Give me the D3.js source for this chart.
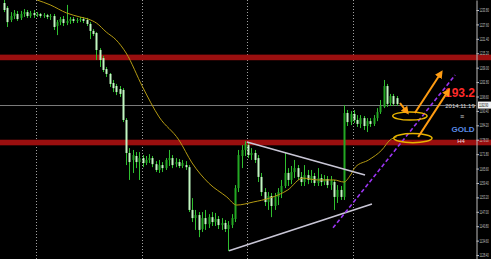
<!DOCTYPE html>
<html><head><meta charset="utf-8">
<script src="https://cdn.jsdelivr.net/npm/d3@7/dist/d3.min.js"></script>
<style>html,body{margin:0;padding:0;background:#000;overflow:hidden}svg{display:block}</style>
</head><body><svg id="c" width="491" height="259"></svg>
<script>
// ---- data (GOLD H4) ----
const opens=[1236.8,1234.7,1229.5,1231.2,1232.1,1230.4,1232.1,1232.9,1231.2,1232.5,1231.6,1232.1,1231.2,1231.6,1230.8,1231.2,1226.9,1228.6,1229.9,1228.2,1229.1,1229.9,1229.1,1229.5,1229.9,1229.5,1227.8,1224.8,1223.9,1216.6,1213.1,1208.4,1206.3,1202.4,1201.1,1199.8,1199.4,1186.5,1172.3,1169.3,1171.0,1168.4,1170.1,1168.0,1169.3,1170.1,1167.5,1165.0,1167.1,1165.8,1169.3,1170.1,1167.5,1168.4,1166.7,1167.1,1166.2,1147.8,1144.3,1145.6,1139.6,1144.3,1141.7,1144.7,1142.6,1143.9,1141.3,1142.2,1139.6,1141.3,1143.9,1157.2,1171.0,1173.6,1175.7,1171.4,1172.3,1170.1,1162.0,1155.5,1151.2,1153.8,1149.5,1153.4,1155.5,1158.1,1163.7,1160.7,1164.1,1165.8,1162.0,1159.8,1162.8,1160.7,1162.4,1159.4,1161.5,1159.8,1161.1,1158.5,1159.8,1153.4,1156.4,1153.4,1189.5,1185.6,1189.1,1186.5,1184.8,1187.3,1183.9,1186.0,1184.8,1187.3,1189.9,1192.1,1201.1,1193.8,1196.8,1195.9];
const highs=[1238.1,1235.5,1232.9,1233.8,1233.4,1233.4,1234.2,1233.8,1233.4,1233.8,1232.9,1232.5,1232.5,1232.1,1232.1,1232.1,1229.5,1230.8,1231.2,1236.0,1230.8,1230.8,1230.4,1230.8,1230.8,1230.4,1228.6,1225.6,1224.3,1217.4,1214.0,1209.3,1206.7,1203.7,1202.0,1201.1,1200.2,1187.3,1174.4,1173.6,1172.7,1172.7,1171.4,1171.0,1171.8,1171.0,1168.8,1169.3,1168.4,1170.1,1173.6,1171.4,1170.1,1169.7,1169.3,1168.8,1167.1,1152.9,1147.8,1146.9,1146.9,1147.8,1146.0,1146.9,1146.5,1145.2,1144.3,1143.5,1143.0,1146.0,1158.5,1173.6,1175.7,1177.4,1177.0,1174.4,1173.6,1171.4,1163.7,1157.2,1155.5,1155.1,1155.1,1157.2,1160.7,1172.3,1165.8,1166.7,1169.3,1167.1,1164.1,1167.1,1165.0,1165.0,1163.7,1165.8,1163.2,1162.8,1162.4,1162.4,1160.7,1158.5,1158.1,1192.9,1190.8,1190.3,1190.8,1188.6,1188.6,1188.2,1187.3,1187.3,1188.6,1191.6,1195.1,1203.7,1202.0,1197.7,1197.7,1196.8];
const lows=[1232.9,1226.5,1228.6,1229.9,1229.1,1229.5,1230.8,1230.4,1230.4,1230.4,1230.8,1230.4,1230.4,1229.9,1229.5,1225.2,1223.0,1227.3,1226.9,1227.3,1227.8,1228.2,1228.2,1228.6,1228.2,1226.9,1221.3,1222.6,1212.3,1209.3,1207.1,1205.0,1200.7,1198.5,1197.2,1196.4,1185.6,1167.1,1160.7,1163.7,1165.8,1160.7,1166.2,1167.1,1168.0,1166.2,1164.1,1163.7,1164.1,1165.0,1166.7,1165.8,1166.2,1165.8,1165.8,1165.0,1146.9,1142.6,1139.2,1136.1,1138.3,1139.2,1140.0,1140.9,1140.9,1139.6,1139.2,1138.3,1130.1,1140.0,1142.6,1155.5,1165.8,1171.0,1170.1,1169.3,1168.0,1159.8,1153.8,1149.5,1147.8,1144.7,1147.8,1149.9,1152.9,1157.2,1158.1,1158.9,1161.5,1160.7,1158.1,1158.1,1158.9,1159.4,1158.1,1158.1,1158.1,1158.5,1157.2,1156.4,1147.8,1150.8,1152.1,1152.1,1183.9,1184.3,1185.2,1183.5,1183.0,1182.2,1181.3,1183.5,1183.9,1186.0,1189.1,1191.6,1192.1,1192.5,1192.5,1192.5];
const closes=[1233.8,1228.6,1231.2,1232.5,1229.9,1232.1,1232.9,1231.2,1232.5,1231.6,1232.1,1231.2,1231.6,1230.8,1231.2,1226.5,1228.6,1229.9,1228.2,1229.1,1229.9,1229.1,1229.5,1229.9,1229.1,1227.8,1224.8,1223.5,1216.6,1212.3,1208.0,1206.3,1202.0,1200.2,1198.5,1197.7,1186.5,1172.3,1168.4,1171.4,1168.4,1170.1,1168.0,1169.3,1170.1,1167.5,1165.0,1167.1,1165.8,1169.3,1170.1,1167.1,1168.4,1166.7,1168.0,1166.2,1147.8,1144.3,1145.6,1139.2,1144.3,1141.7,1144.7,1142.6,1143.9,1141.3,1142.2,1139.6,1141.3,1144.3,1157.2,1171.4,1173.6,1176.1,1171.4,1172.3,1169.3,1162.0,1155.5,1151.2,1153.8,1149.5,1153.8,1155.5,1158.1,1163.7,1160.7,1164.1,1165.8,1162.0,1159.8,1162.8,1160.7,1162.4,1159.4,1161.5,1159.8,1161.1,1158.5,1160.7,1153.4,1156.4,1153.4,1189.5,1185.6,1189.1,1186.5,1184.8,1187.3,1183.9,1186.0,1184.8,1187.3,1189.9,1192.5,1201.1,1193.4,1196.8,1193.4,1193.4];
// moving average (yellow) read at bar indices
const maIdx=[10,14,19,23,25.5,28,31,34,37,42,47,53,57,62,67.5,70.5,75.5,80.5,86,90.5,95,100,103,105,106.5,110.5,114.5,117,119];
const maVal=[1238.1,1236.0,1232.5,1230.8,1229.9,1228.2,1224.3,1220.9,1215.3,1200.7,1187.8,1177.9,1168.0,1159.4,1153.4,1149.9,1151.2,1152.9,1156.4,1161.5,1160.7,1160.7,1159.8,1162.8,1166.3,1169.3,1173.6,1177.9,1179.2];
// price axis labels
const yTicks=[1233.8,1227.6,1221.4,1215.2,1209.0,1202.8,1196.6,1190.4,1184.2,1178.0,1171.8,1165.6,1159.4,1153.2,1147.0,1140.8,1134.6,1128.4];
const redLevels=[1213.4,1176.8];
const bidPrice=1192.9;
const gridIdx=[9.7,41.8,73.6,105.8];
// drawn objects (bar index, price)
const triUpper=[[73.6,1177.0],[109.4,1162.8]];
const triLower=[[68.2,1130.2],[111.5,1150.4]];
const channel=[[99.7,1140.1],[136.7,1205.8]];
const arrows=[[[124.5,1189.5],[132.4,1206.7]],[[125.5,1179.2],[134.6,1199.0]],[[120.0,1193.8],[122.1,1189.9]]];
const ellipses=[[123.0,1188.2,5.2,1.75],[123.9,1178.7,5.8,1.95]];

// ---- drawing ----
const W=491,H=259,AX=476;
const svg=d3.select("#c");
svg.append("rect").attr("width",W).attr("height",H).attr("fill","#000");
const x=d3.scaleLinear().domain([0,119]).range([4,396.7]);
const y=d3.scaleLinear().domain([1126.7,1238.1]).range([H,0]);

// vertical dotted grid
svg.selectAll("line.grid").data(gridIdx).enter().append("line").attr("class","grid")
  .attr("x1",d=>Math.round(x(d))+0.5).attr("x2",d=>Math.round(x(d))+0.5)
  .attr("y1",0).attr("y2",H).attr("stroke","#a0a0a0").attr("stroke-width",1).attr("stroke-dasharray","1,2");

// red levels
svg.selectAll("rect.lvl").data(redLevels).enter().append("rect").attr("class","lvl")
  .attr("x",0).attr("width",W).attr("y",d=>y(d)-2.8).attr("height",5.6).attr("fill","#9a0f0f");

// bid line
svg.append("line").attr("x1",0).attr("x2",AX).attr("y1",Math.round(y(bidPrice))+0.5).attr("y2",Math.round(y(bidPrice))+0.5)
  .attr("stroke","#7a7a7a").attr("stroke-width",1);

// candles
const idx=d3.range(opens.length);
const g=svg.append("g");
g.selectAll("line.wick").data(idx).enter().append("line").attr("class","wick")
  .attr("x1",i=>Math.round(x(i))+0.5).attr("x2",i=>Math.round(x(i))+0.5)
  .attr("y1",i=>y(highs[i])).attr("y2",i=>y(lows[i]))
  .attr("stroke","#2fbf2f").attr("stroke-width",1);
g.selectAll("rect.body").data(idx).enter().append("rect").attr("class","body")
  .attr("x",i=>Math.round(x(i))-0.5).attr("width",2)
  .attr("y",i=>y(Math.max(opens[i],closes[i])))
  .attr("height",i=>Math.max(1,Math.abs(y(opens[i])-y(closes[i]))))
  .attr("fill",i=>closes[i]>=opens[i]?"#23a823":"#c2f7c2");

// moving average
svg.append("path").datum(d3.range(maIdx.length))
  .attr("d",d3.line().x(k=>x(maIdx[k])).y(k=>y(maVal[k])).curve(d3.curveMonotoneX))
  .attr("fill","none").attr("stroke","#b49a12").attr("stroke-width",1);

// triangle lines
[triUpper,triLower].forEach(t=>{
  svg.append("line").attr("x1",x(t[0][0])).attr("y1",y(t[0][1])).attr("x2",x(t[1][0])).attr("y2",y(t[1][1]))
    .attr("stroke","#c9c6d6").attr("stroke-width",1.6);
});
// purple dashed channel
svg.append("line").attr("x1",x(channel[0][0])).attr("y1",y(channel[0][1])).attr("x2",x(channel[1][0])).attr("y2",y(channel[1][1]))
  .attr("stroke","#9b35f2").attr("stroke-width",1.6).attr("stroke-dasharray","4,2.5");

// ellipses
svg.selectAll("ellipse.el").data(ellipses).enter().append("ellipse").attr("class","el")
  .attr("cx",d=>x(d[0])).attr("cy",d=>y(d[1]))
  .attr("rx",d=>x(d[0]+d[2])-x(d[0])).attr("ry",d=>y(d[1])-y(d[1]+d[3]))
  .attr("fill","none").attr("stroke","#e8b400").attr("stroke-width",1.5);

// texts
const ff="Arial, 'Liberation Sans', sans-serif";
svg.append("text").attr("x",475).attr("y",97).attr("text-anchor","end").attr("font-family",ff)
  .attr("font-weight","bold").attr("font-size",12).attr("fill","#ff2a2a").text("193.2");
svg.append("text").attr("x",460).attr("y",108).attr("text-anchor","middle").attr("font-family",ff)
  .attr("font-size",6).attr("fill","#dcdcdc").text("2014.11.19");
svg.append("text").attr("x",462).attr("y",119).attr("text-anchor","middle").attr("font-family",ff)
  .attr("font-size",7).attr("fill","#cfcfcf").text("≡");
svg.append("text").attr("x",463).attr("y",132).attr("text-anchor","middle").attr("font-family",ff)
  .attr("font-weight","bold").attr("font-size",8).attr("fill","#5a8be8").text("GOLD");
svg.append("text").attr("x",461).attr("y",142.5).attr("text-anchor","middle").attr("font-family",ff)
  .attr("font-size",6).attr("fill","#f0dede").text("H4");

// arrows (drawn above the text like the reference)
const defs=svg.append("defs");
defs.append("marker").attr("id","ah").attr("viewBox","0 0 10 10").attr("refX",6).attr("refY",5)
  .attr("markerWidth",8).attr("markerHeight",8).attr("markerUnits","userSpaceOnUse").attr("orient","auto")
  .append("path").attr("d","M0,0 L10,5 L0,10 z").attr("fill","#ff9c12");
svg.selectAll("line.arr").data(arrows).enter().append("line").attr("class","arr")
  .attr("x1",d=>x(d[0][0])).attr("y1",d=>y(d[0][1])).attr("x2",d=>x(d[1][0])).attr("y2",d=>y(d[1][1]))
  .attr("stroke","#ff9c12").attr("stroke-width",2).attr("marker-end","url(#ah)");

// price axis
const axis=d3.axisRight(y).tickValues(yTicks).tickSize(2.5).tickSizeOuter(0).tickPadding(0).tickFormat(d3.format(".2f"));
const ag=svg.append("g").attr("transform",`translate(${AX+0.5},0)`).call(axis);
ag.select(".domain").attr("stroke","#bdbdbd");
ag.selectAll(".tick line").attr("stroke","#bdbdbd");
ag.selectAll(".tick text").attr("fill","#c8c8c8").attr("font-size",5).attr("font-family",ff)
  .attr("x",0).attr("transform","translate(3,0) scale(0.52,1)");

// bid label box
const by=y(bidPrice);
svg.append("rect").attr("x",AX+2).attr("y",by-3.5).attr("width",W-AX-2).attr("height",7).attr("fill","#f2f2f2");
svg.append("text").attr("transform",`translate(${AX+3},${by+1.8}) scale(0.52,1)`).attr("font-family",ff)
  .attr("font-size",5).attr("fill","#000").text(d3.format(".2f")(bidPrice));
</script></body></html>
